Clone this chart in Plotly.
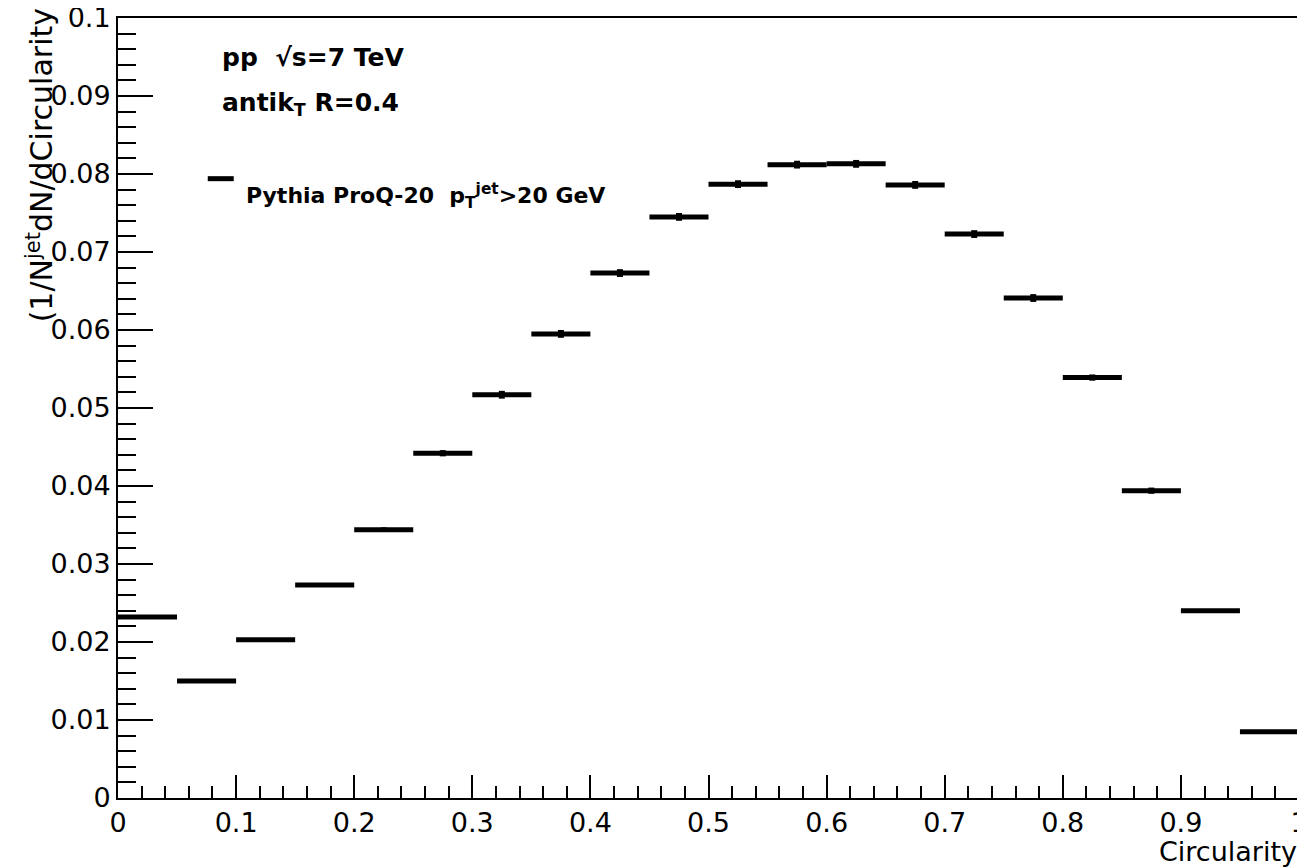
import plotly.graph_objects as go

# 20 bins of width 0.05 between 0 and 1
bin_centers = [0.025, 0.075, 0.125, 0.175, 0.225, 0.275, 0.325, 0.375, 0.425, 0.475,
               0.525, 0.575, 0.625, 0.675, 0.725, 0.775, 0.825, 0.875, 0.925, 0.975]
bin_half_width = [0.025] * 20
density = [0.0232, 0.0150, 0.0203, 0.0273, 0.0344, 0.0442, 0.0517, 0.0595, 0.0673, 0.0745,
           0.0787, 0.0812, 0.0813, 0.0786, 0.0723, 0.0641, 0.0539, 0.0394, 0.0240, 0.0085]
density_err = [0.0001, 0.0001, 0.0001, 0.0002, 0.0003, 0.0004, 0.0005, 0.0005, 0.0005, 0.0005,
               0.0005, 0.0005, 0.0005, 0.0005, 0.0005, 0.0005, 0.0004, 0.0004, 0.0002, 0.0002]

x_ticks = [0, 0.1, 0.2, 0.3, 0.4, 0.5, 0.6, 0.7, 0.8, 0.9, 1]
x_tick_labels = ["0", "0.1", "0.2", "0.3", "0.4", "0.5", "0.6", "0.7", "0.8", "0.9", "1"]
y_ticks = [0, 0.01, 0.02, 0.03, 0.04, 0.05, 0.06, 0.07, 0.08, 0.09, 0.1]
y_tick_labels = ["0", "0.01", "0.02", "0.03", "0.04", "0.05", "0.06", "0.07", "0.08", "0.09", "0.1"]

FONT = "DejaVu Sans, Liberation Sans, Arial, sans-serif"

fig = go.Figure(go.Scatter(
    x=bin_centers,
    y=density,
    mode="markers",
    marker=dict(size=1, color="black"),
    error_x=dict(type="data", array=bin_half_width, width=0, thickness=5, color="black"),
    error_y=dict(type="data", array=density_err, width=0, thickness=6, color="black"),
    showlegend=False,
))

axis_common = dict(
    showline=True, linecolor="black", linewidth=2, mirror=True, automargin=False,
    showgrid=False, zeroline=False, ticks="inside", tickcolor="black",
    tickwidth=2, ticklabeloverflow="allow",
    tickfont=dict(family=FONT, size=27, color="black"),
)

fig.update_xaxes(
    range=[0, 1], tickvals=x_ticks, ticktext=x_tick_labels, ticklen=23,
    minor=dict(ticks="inside", ticklen=12, dtick=0.02, tickwidth=2, tickcolor="black", showgrid=False),
    **axis_common,
)
fig.update_yaxes(
    range=[0, 0.1], tickvals=y_ticks, ticktext=y_tick_labels, ticklen=35,
    minor=dict(ticks="inside", ticklen=18, dtick=0.002, tickwidth=2, tickcolor="black", showgrid=False),
    **axis_common,
)

# axis titles placed ROOT-style (right/top aligned)
fig.add_annotation(text="Circularity", xref="paper", yref="paper", x=1, y=-0.068,
                   xanchor="right", yanchor="middle", showarrow=False,
                   font=dict(family=FONT, size=27, color="black"))
fig.add_annotation(text="(1/N<sup>jet</sup>dN/dCircularity", xref="paper", yref="paper",
                   x=-0.066, y=1.015, xanchor="center", yanchor="top", textangle=-90,
                   showarrow=False, font=dict(family=FONT, size=30, color="black"))

# labels inside the frame
fig.add_annotation(text="<b>pp  √s=7 TeV</b>", xref="paper", yref="paper", x=0.086, y=0.949,
                   xanchor="left", yanchor="middle", showarrow=False,
                   font=dict(family=FONT, size=25, color="black"))
fig.add_annotation(text="<b>antik<sub>T</sub> R=0.4</b>", xref="paper", yref="paper", x=0.086, y=0.89,
                   xanchor="left", yanchor="middle", showarrow=False,
                   font=dict(family=FONT, size=25, color="black"))

# legend entry
fig.add_shape(type="line", xref="paper", yref="paper", x0=0.076, x1=0.098, y0=0.794, y1=0.794,
              line=dict(color="black", width=5))
fig.add_annotation(text="<b>Pythia ProQ-20  p<sub>T</sub><sup>jet</sup>>20 GeV</b>", xref="paper", yref="paper",
                   x=0.107, y=0.772, xanchor="left", yanchor="middle", showarrow=False,
                   font=dict(family=FONT, size=22, color="black"))

# the page adds an 8 px body margin, so the figure is shrunk by that much
fig.update_layout(
    width=1297,
    height=860,
    margin=dict(l=110, r=6, t=10, b=70),
    paper_bgcolor="white",
    plot_bgcolor="white",
    font=dict(family=FONT, color="black"),
)

fig.write_html("out.html")
